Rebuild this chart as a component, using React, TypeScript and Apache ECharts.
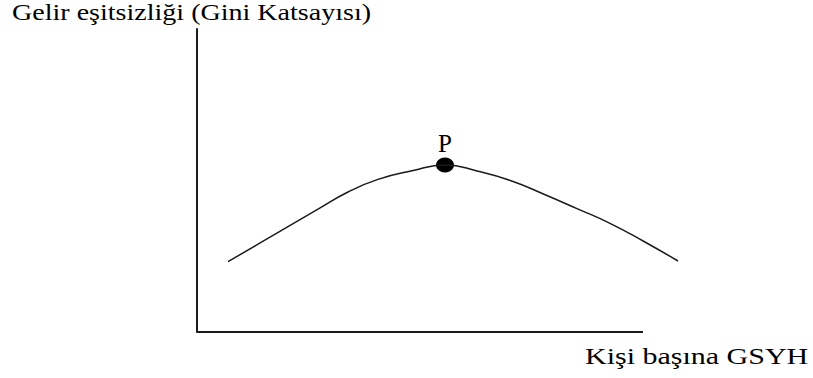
import React, { useEffect, useRef } from "react";
import * as echarts from "echarts";

// Diagram units: x grows to the right from the y axis, y grows upward from the x axis
const curveX = [31, 61, 91, 121, 151, 181, 215, 248, 281, 314, 347, 380, 413, 447, 481];
const curveY = [70.3, 87.8, 105.4, 122.9, 140, 152.6, 161.2, 167, 160.8, 151.3, 137.8, 123.4, 108.7, 90.5, 71];
const peak = [248, 167];
const xAxisEnd = 446;
const peakLabel = "P";
const yTitle = "Gelir eşitsizliği (Gini Katsayısı)";
const xTitle = "Kişi başına GSYH";

const FONT = '"Liberation Serif", "Times New Roman", serif';

export default function App() {
  const ref = useRef<HTMLDivElement>(null);
  useEffect(() => {
    const chart = echarts.init(ref.current!, null, { renderer: "svg" });
    chart.setOption({
      animation: false,
      backgroundColor: "#fff",
      grid: { left: 197, right: 113, top: 29, bottom: 46 },
      xAxis: {
        type: "value", min: 0, max: 503,
        axisLine: { show: false },
        axisTick: { show: false }, axisLabel: { show: false }, splitLine: { show: false },
      },
      yAxis: {
        type: "value", min: 0, max: 303,
        axisLine: { show: true, lineStyle: { color: "#1a1a1a", width: 2 } },
        axisTick: { show: false }, axisLabel: { show: false }, splitLine: { show: false },
      },
      series: [
        {
          type: "line", smooth: 0.5, clip: false, symbol: "none",
          lineStyle: { color: "#1a1a1a", width: 1.5 },
          data: curveX.map((x, i) => [x, curveY[i]]),
          markLine: {
            silent: true, symbol: "none", label: { show: false },
            lineStyle: { color: "#1a1a1a", width: 2, type: "solid" },
            data: [[{ coord: [0, 0] }, { coord: [xAxisEnd, 0] }]],
          },
        },
        {
          type: "scatter", clip: false, symbol: "circle", symbolSize: [18, 15],
          itemStyle: { color: "#000", opacity: 1 },
          label: {
            show: true, position: "top", distance: 2, formatter: peakLabel,
            fontFamily: FONT, fontSize: 25, color: "#000",
          },
          data: [peak],
        },
      ],
      graphic: [
        {
          type: "text", x: 12, y: 1, scaleX: 1.22,
          style: { text: yTitle, font: `23px ${FONT}`, fill: "#000", verticalAlign: "top" },
        },
        {
          type: "text", x: 585, y: 344, scaleX: 1.25,
          style: { text: xTitle, font: `24px ${FONT}`, fill: "#000", verticalAlign: "top" },
        },
      ],
    });
    return () => chart.dispose();
  }, []);
  return <div ref={ref} style={{ width: 813, height: 378, position: "absolute", left: 0, top: 0 }} />;
}
